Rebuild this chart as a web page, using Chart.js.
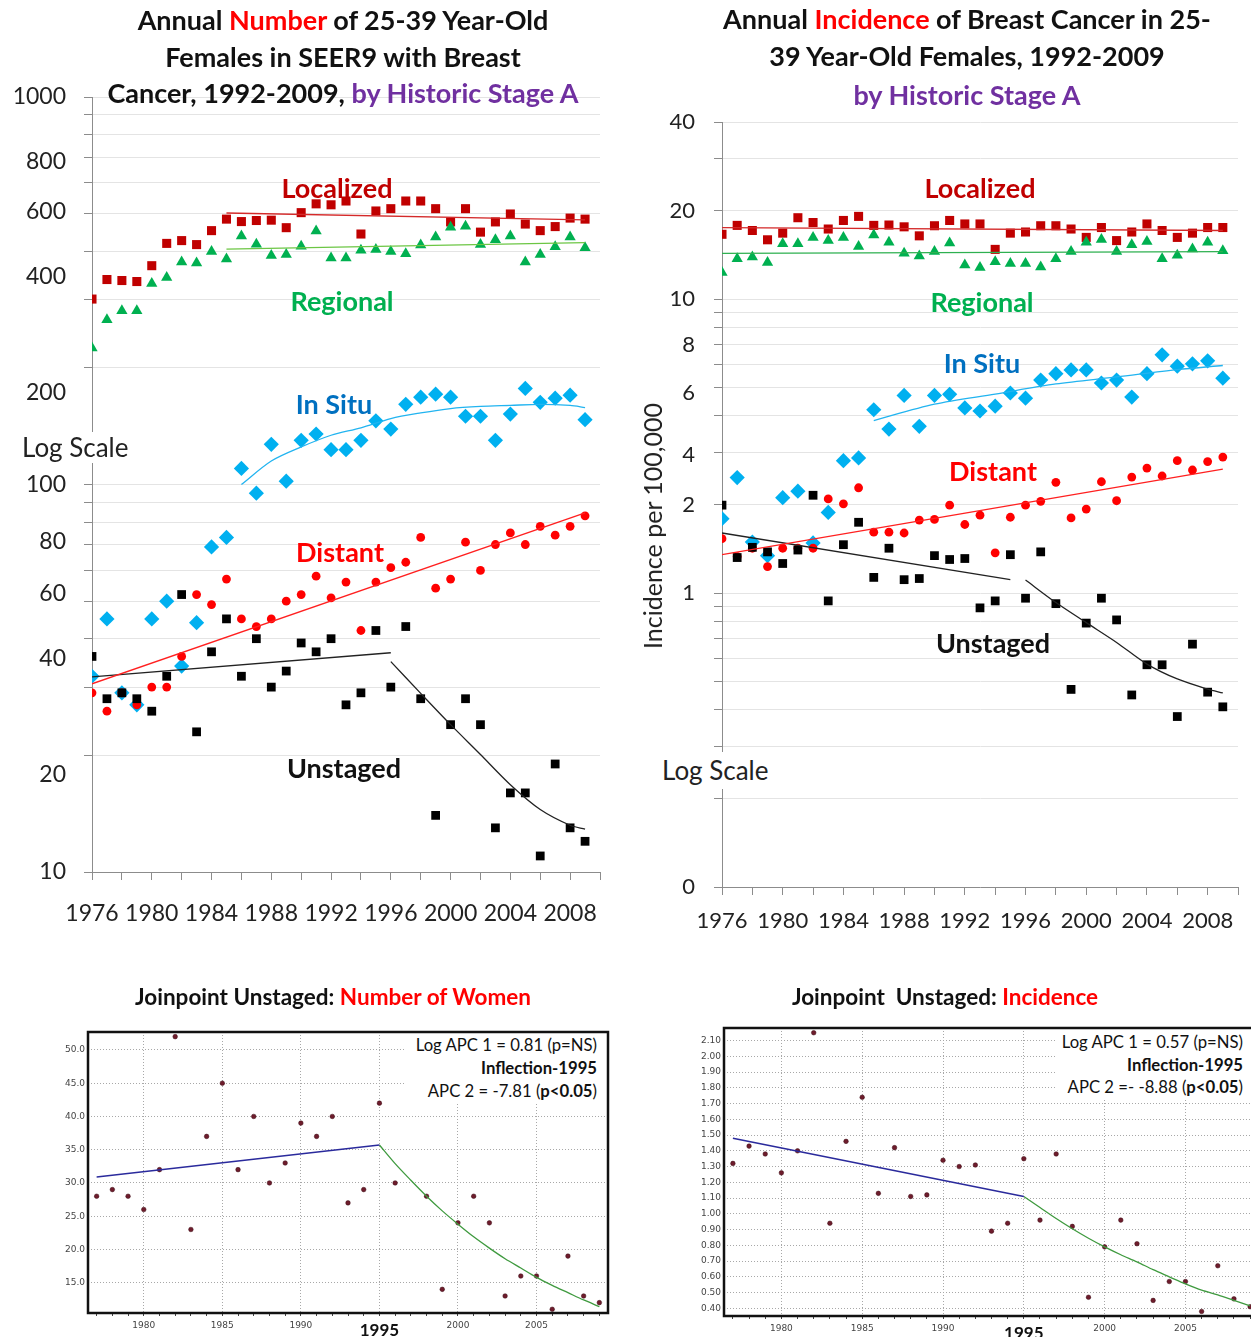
<!DOCTYPE html>
<html>
<head>
<meta charset="utf-8">
<title>Breast cancer in 25-39 year-old females, SEER9, by Historic Stage A</title>
<script src="https://cdn.jsdelivr.net/npm/chart.js@4.4.1/dist/chart.umd.min.js"></script>
<style>
  html, body { margin: 0; padding: 0; background: #fff; }
  body { position: relative; width: 1251px; height: 1337px; overflow: hidden;
         font-family: Lato, 'Open Sans', sans-serif; color: #111; }
  canvas { position: absolute; }
  .ttl { position: absolute; white-space: nowrap; font-weight: 700; font-size: 27px;
         line-height: 36px; transform: translateX(-50%); }
  .sub { font-size: 22.5px; line-height: 30px; }
  .red { color: #ff0000; }
  .purple { color: #7030a0; }
  .lbl { position: absolute; white-space: nowrap; font-weight: 700; font-size: 27px;
         transform: translate(-50%, -50%); }
  .logs { position: absolute; background: #fff; font-size: 26px; color: #222; white-space: nowrap; }
  .note { position: absolute; background: #fff; text-align: right; font-size: 16.7px; white-space: nowrap; }
</style>
</head>
<body>

<canvas id="cNum" width="620" height="950" style="left:0;top:0"></canvas>
<canvas id="cInc" width="621" height="950" style="left:630px;top:0"></canvas>
<canvas id="cJpNum" width="625" height="377" style="left:0;top:960px"></canvas>
<canvas id="cJpInc" width="640" height="377" style="left:630px;top:960px"></canvas>

<!-- titles -->
<div class="ttl" style="left:343px;top:2px">Annual <span class="red">Number</span> of 25-39 Year-Old</div>
<div class="ttl" style="left:343px;top:39px">Females in SEER9 with Breast</div>
<div class="ttl" style="left:343px;top:75px">Cancer, 1992-2009, <span class="purple">by Historic Stage A</span></div>

<div class="ttl" style="left:967px;top:1px">Annual <span class="red">Incidence</span> of Breast Cancer in 25-</div>
<div class="ttl" style="left:967px;top:38px">39 Year-Old Females, 1992-2009</div>
<div class="ttl purple" style="left:967px;top:77px">by Historic Stage A</div>

<div class="ttl sub" style="left:333px;top:982px">Joinpoint Unstaged: <span class="red">Number of Women</span></div>
<div class="ttl sub" style="left:945px;top:982px">Joinpoint&nbsp; Unstaged: <span class="red">Incidence</span></div>

<!-- series names, upper left -->
<div class="lbl" style="left:337px;top:187px;color:#c00000">Localized</div>
<div class="lbl" style="left:342px;top:300px;color:#00b050">Regional</div>
<div class="lbl" style="left:334px;top:403px;color:#0070c0">In Situ</div>
<div class="lbl" style="left:340px;top:551px;color:#ff0000">Distant</div>
<div class="lbl" style="left:344px;top:767px;color:#111">Unstaged</div>

<!-- series names, upper right -->
<div class="lbl" style="left:980px;top:187px;color:#c00000">Localized</div>
<div class="lbl" style="left:982px;top:301px;color:#00b050">Regional</div>
<div class="lbl" style="left:982px;top:362px;color:#0070c0">In Situ</div>
<div class="lbl" style="left:993px;top:470px;color:#ff0000">Distant</div>
<div class="lbl" style="left:993px;top:642px;color:#111">Unstaged</div>

<div class="logs" style="left:16px;top:432px;width:118px;height:31px;line-height:31px;padding-left:6px">Log Scale</div>
<div class="logs" style="left:656px;top:752px;width:118px;height:37px;line-height:37px;padding-left:6px">Log Scale</div>

<div style="position:absolute;left:652px;top:526px;transform:translate(-50%,-50%) rotate(-90deg);font-size:25px;white-space:nowrap;color:#222">Incidence per 100,000</div>

<!-- joinpoint notes -->
<div class="note" style="left:406px;top:1034px;width:191px;padding-right:8px;line-height:23px">
  Log APC 1 = 0.81 (p=NS)<br><b>Inflection-1995</b><br>APC 2 = -7.81 (<b>p&lt;0.05</b>)
</div>
<div class="note" style="left:1057px;top:1031px;width:186px;padding-right:14px;line-height:22.5px">
  Log APC 1 = 0.57 (p=NS)<br><b>Inflection-1995</b><br>APC 2 =- -8.88 (<b>p&lt;0.05</b>)
</div>

<script>
// ── DATA ──────────────────────────────────────────────────────
const years = [1976,1977,1978,1979,1980,1981,1982,1983,1984,1985,1986,1987,1988,1989,1990,1991,
               1992,1993,1994,1995,1996,1997,1998,1999,2000,2001,2002,2003,2004,2005,2006,2007,2008,2009];

// annual number of women (upper left)
const localizedN = [301,338,336,334,367,419,426,416,452,484,477,480,481,460,503,530,527,539,443,508,
                    515,539,539,515,476,515,448,476,499,470,452,463,487,484];
const regionalN  = [225,266,281,281,330,342,375,373,399,382,438,417,390,392,412,451,384,384,402,404,
                    399,394,415,435,461,464,416,428,438,375,392,411,435,408];
const inSituN    = [32,45,29,27,45,50,34,44,69,73,110,95,127,102,130,135,123,123,130,146,
                    139,161,168,171,168,150,150,130,152,177,163,167,170,147];
const distantN   = [29,26,29,27,30,30,36,52,49,57,45,43,45,50,52,58,51,56,42,56,
                    61,63,73,54,57,71,60,70,75,70,78,74,78,83];
const unstagedN  = [36,28,29,28,26,32,52,23,37,45,32,40,30,33,39,37,40,27,29,42,
                    30,43,28,14,24,28,24,13,16,16,11,19,13,12];

// fitted lines (upper left)
const locFitYrsN = [1985, 2009],               locFitN = [502, 482];
const regFitYrsN = [1985, 2009],               regFitN = [405, 421];
const situFitYrsN = [1986,1988,1990,1992,1994,1996,1998,2000,2002,2004,2006,2008,2009];
const situFitN    = [100,115,125,134,140,148,153,157,159,160,161,160,158];
const distFitYrsN = [1976, 2009],              distFitN = [30.6, 84.5];
const unst1FitYrsN = [1976, 1996],             unst1FitN = [31.9, 36.8];
const unst2FitYrsN = [1996,1998,2000,2002,2004,2006,2008,2009];
const unst2FitN    = [34.9,28.9,24.0,20.1,16.8,14.5,13.2,12.9];

// annual incidence per 100,000 (upper right)
const localizedI = [16.6,17.8,17.1,15.9,16.75,18.9,18.2,17.3,18.5,19.1,17.8,17.85,17.6,16.4,17.75,18.5,
                    18.0,18.0,14.75,16.75,16.9,17.75,17.75,17.3,16.2,17.5,15.8,16.9,18.0,17.1,16.2,16.75,17.5,17.5];
const regionalI  = [12.3,13.7,13.9,13.3,15.4,15.4,16.2,15.8,16.2,15.1,16.5,15.6,14.3,14.0,14.5,15.5,
                    13.05,12.8,13.4,13.2,13.2,12.85,13.7,14.5,15.6,15.95,14.5,15.3,15.7,13.7,14.1,14.8,15.6,14.6];
const inSituI    = [1.79,2.47,1.49,1.34,2.11,2.22,1.48,1.88,2.82,2.88,4.20,3.61,4.70,3.69,4.70,4.74,
                    4.26,4.16,4.32,4.79,4.60,5.30,5.57,5.74,5.74,5.18,5.30,4.64,5.57,6.46,5.91,6.02,6.16,5.38];
const distantI   = [1.53,1.33,1.42,1.23,1.42,1.42,1.42,2.09,2.01,2.28,1.61,1.61,1.60,1.77,1.78,1.99,
                    1.71,1.84,1.37,1.81,1.99,2.05,2.38,1.80,1.93,2.39,2.06,2.48,2.66,2.50,2.82,2.62,2.80,2.90];
const unstagedI  = [1.99,1.32,1.43,1.38,1.26,1.40,2.15,0.94,1.46,1.74,1.13,1.42,1.11,1.12,1.34,1.30,
                    1.31,0.89,0.94,1.35,0.96,1.38,0.92,0.47,0.79,0.96,0.81,0.45,0.57,0.57,0.38,0.67,0.46,0.41];

// fitted lines (upper right)
const locFitYrsI = [1976, 2009],               locFitI = [17.5, 17.1];
const regFitYrsI = [1976, 2009],               regFitI = [14.3, 14.5];
const situFitYrsI = [1986,1990,1994,1998,2002,2006,2009];
const situFitI    = [3.86,4.39,4.75,5.14,5.43,5.75,5.94];
const distFitYrsI = [1976, 2009],              distFitI = [1.35, 2.64];
const unst1FitYrsI = [1976, 1995],             unst1FitI = [1.60, 1.11];
const unst2FitYrsI = [1996,1998,2000,2002,2004,2006,2008,2009];
const unst2FitI    = [1.107,0.928,0.793,0.679,0.573,0.510,0.471,0.457];

// log-axis grid lines and the labels as they were placed on the figure
const numGrid      = [10,20,30,40,50,60,70,80,90,100,200,300,400,500,600,700,800,900,1000];
const numLabelVals = [10,17.8,35.6,52.4,71.2,100,173,344,507,682,1000];
const numLabelTxt  = ['10','20','40','60','80','100','200','400','600','800','1000'];
const incGrid      = [0.1,0.2,0.3,0.4,0.5,0.6,0.7,0.8,0.9,1,2,3,4,5,6,7,8,9,10,20,30,40];
const incLabelVals = [0.1,1,2,2.96,4.79,7,10,20,40];
const incLabelTxt  = ['0','1','2','4','6','8','10','20','40'];

// joinpoint panels: unstaged only, 1977-2009
const jpYears = [1977,1978,1979,1980,1981,1982,1983,1984,1985,1986,1987,1988,1989,1990,1991,1992,1993,
                 1994,1995,1996,1997,1998,1999,2000,2001,2002,2003,2004,2005,2006,2007,2008,2009];
const jpCount = [28,29,28,26,32,52,23,37,45,32,40,30,33,39,37,40,27,29,42,30,43,28,14,24,28,24,13,16,16,11,19,13,12];
const jpRate  = [1.32,1.43,1.38,1.26,1.40,2.15,0.94,1.46,1.74,1.13,1.42,1.11,1.12,1.34,1.30,1.31,0.89,
                 0.94,1.35,0.96,1.38,0.92,0.47,0.79,0.96,0.81,0.45,0.57,0.57,0.38,0.67,0.46,0.41];
const jpSeg1Yrs = [1977, 1995];
const jpSeg1Count = [30.9, 35.7];
const jpSeg1Rate  = [1.48, 1.11];
const jpSeg2Yrs = [1995,1996,1997,1998,1999,2000,2001,2002,2003,2004,2005,2006,2007,2008,2009];
const jpSeg2Count = [35.7,32.9,30.4,28.0,25.8,23.8,21.9,20.2,18.6,17.2,15.8,14.6,13.5,12.4,11.4];
const jpSeg2Rate  = [1.11,1.04,0.97,0.905,0.845,0.79,0.74,0.695,0.645,0.60,0.555,0.515,0.485,0.45,0.415];

// ── HELPERS ───────────────────────────────────────────────────
const pts = (xs, ys) => xs.map((x, i) => ({ x, y: ys[i] }));
const CLEAR = 'rgba(0,0,0,0)';

function markers(xs, ys, color, style, radius, order) {
  return { data: pts(xs, ys), showLine: false, pointStyle: style, pointRadius: radius,
           pointBackgroundColor: color, pointBorderColor: color, pointBorderWidth: 0, order };
}
function fitLine(xs, ys, color, width, tension) {
  return { data: pts(xs, ys), showLine: true, pointRadius: 0, borderColor: color,
           borderWidth: width || 1.3, tension: tension || 0, fill: false, order: -1 };
}
function axisTicks(gridVals, labelVals, labelTxt) {
  const byValue = new Map();
  gridVals.forEach(v => byValue.set(v, { value: v, grid: true, lbl: '' }));
  labelVals.forEach((v, i) => {
    const t = byValue.get(v) || { value: v, grid: false, lbl: '' };
    t.lbl = labelTxt[i];
    byValue.set(v, t);
  });
  return [...byValue.values()].sort((a, b) => a.value - b.value);
}

function upperOptions(o) {
  const ticks = axisTicks(o.grid, o.labelVals, o.labelTxt);
  return {
    responsive: false, animation: false,
    layout: { padding: { top: o.top, right: o.right, left: 0, bottom: 0 } },
    plugins: { legend: { display: false }, tooltip: { enabled: false } },
    scales: {
      x: {
        type: 'linear', min: 1976, max: 2010,
        afterFit: s => { s.height = o.xh; },
        grid: { drawOnChartArea: false, tickLength: 8, tickColor: '#8c8c8c' },
        border: { color: '#8c8c8c' },
        ticks: { stepSize: 2, autoSkip: false, maxRotation: 0, padding: o.xpad, color: '#222',
                 font: { family: 'Lato', size: o.fs },
                 callback: v => ((v - 1976) % 4 === 0 && v < 2010) ? String(v) : '' }
      },
      y: {
        type: 'logarithmic', min: o.min, max: o.max,
        afterFit: s => { s.width = o.yw; },
        afterBuildTicks: s => { s.ticks = ticks.map(t => ({ ...t })); },
        grid: { color: c => (c.tick && c.tick.grid) ? '#e4e4e4' : CLEAR,
                tickColor: c => (c.tick && c.tick.grid) ? '#8c8c8c' : CLEAR, tickLength: 8 },
        border: { color: '#8c8c8c' },
        ticks: { autoSkip: false, padding: o.ypad, color: '#222', font: { family: 'Lato', size: o.fs },
                 callback: (v, i, t) => t[i].lbl || '' }
      }
    }
  };
}

const framePlugin = {
  id: 'frame',
  afterDraw(chart) {
    const { ctx, chartArea: a } = chart;
    ctx.save();
    ctx.strokeStyle = '#111';
    ctx.lineWidth = 2.5;
    ctx.strokeRect(a.left, a.top, a.right - a.left, a.bottom - a.top);
    ctx.restore();
  }
};

function jpOptions(o) {
  const small = { family: 'DejaVu Sans', size: 9 };
  return {
    responsive: false, animation: false,
    layout: { padding: { top: o.top, right: o.right, left: 0, bottom: 0 } },
    plugins: { legend: { display: false }, tooltip: { enabled: false } },
    scales: {
      x: {
        type: 'linear', min: 1976.45, max: 2009.55,
        afterFit: s => { s.height = o.xh; },
        grid: { color: c => (c.tick && c.tick.value % 5 === 0) ? '#a8a8a8' : CLEAR,
                tickColor: '#444', tickLength: 3, tickBorderDash: [] },
        border: { display: false, dash: [1, 2] },
        ticks: { stepSize: 1, includeBounds: false, autoSkip: false, maxRotation: 0, padding: o.xpad,
                 font: c => (c.tick && c.tick.value === 1995) ? { family: 'Lato', size: 17, weight: 'bold' } : small,
                 color: c => (c.tick && c.tick.value === 1995) ? '#111' : '#444',
                 callback: v => v % 5 === 0 ? String(v) : '' }
      },
      y: {
        min: o.min, max: o.max,
        afterFit: s => { s.width = o.yw; },
        grid: { color: '#a8a8a8', drawTicks: false },
        border: { display: false, dash: [1, 2] },
        ticks: { stepSize: o.step, includeBounds: false, autoSkip: false, padding: 3, color: '#444',
                 font: small, callback: v => v.toFixed(o.dec) }
      }
    }
  };
}

function jpDatasets(vals, seg1, seg2) {
  return [
    { data: pts(jpYears, vals), showLine: false, pointRadius: 2.3, pointBackgroundColor: '#6e1c2c',
      pointBorderColor: '#3a0a12', pointBorderWidth: 0.5, order: 0 },
    fitLine(jpSeg1Yrs, seg1, '#2a2a9c', 1.6),
    fitLine(jpSeg2Yrs, seg2, '#3f9a3f', 1.3, 0.3)
  ];
}

// ── CHARTS ────────────────────────────────────────────────────
new Chart(document.getElementById('cNum'), {
  type: 'scatter',
  data: { datasets: [
    markers(years, localizedN, '#c00000', 'rect', 6.4, 5),
    markers(years, regionalN, '#00b050', 'triangle', 6.5, 4),
    markers(years, inSituN, '#00b0f0', 'rectRot', 7.6, 3),
    markers(years, distantN, '#ff0000', 'circle', 4.4, 2),
    markers(years, unstagedN, '#000000', 'rect', 6.2, 1),
    fitLine(locFitYrsN, locFitN, '#d42a2a'),
    fitLine(regFitYrsN, regFitN, '#6cc644'),
    fitLine(situFitYrsN, situFitN, '#22b4f0', 1.3, 0.3),
    fitLine(distFitYrsN, distFitN, '#ff2020'),
    fitLine(unst1FitYrsN, unst1FitN, '#222'),
    fitLine(unst2FitYrsN, unst2FitN, '#222', 1.3, 0.3)
  ]},
  options: upperOptions({ top: 97, right: 18, xh: 78, yw: 92, xpad: 20, ypad: 18, fs: 23,
                          min: 10, max: 1000, grid: numGrid, labelVals: numLabelVals, labelTxt: numLabelTxt })
});

new Chart(document.getElementById('cInc'), {
  type: 'scatter',
  data: { datasets: [
    markers(years, localizedI, '#c00000', 'rect', 6.4, 5),
    markers(years, regionalI, '#00b050', 'triangle', 6.5, 4),
    markers(years, inSituI, '#00b0f0', 'rectRot', 7.6, 3),
    markers(years, distantI, '#ff0000', 'circle', 4.4, 2),
    markers(years, unstagedI, '#000000', 'rect', 6.2, 1),
    fitLine(locFitYrsI, locFitI, '#d42a2a'),
    fitLine(regFitYrsI, regFitI, '#2eb050'),
    fitLine(situFitYrsI, situFitI, '#22b4f0', 1.3, 0.3),
    fitLine(distFitYrsI, distFitI, '#ff2020'),
    fitLine(unst1FitYrsI, unst1FitI, '#222'),
    fitLine(unst2FitYrsI, unst2FitI, '#222', 1.3, 0.3)
  ]},
  options: upperOptions({ top: 122, right: 2, xh: 63, yw: 92, xpad: 13, ypad: 19, fs: 22,
                          min: 0.1, max: 40, grid: incGrid, labelVals: incLabelVals, labelTxt: incLabelTxt })
});

new Chart(document.getElementById('cJpNum'), {
  type: 'scatter',
  data: { datasets: jpDatasets(jpCount, jpSeg1Count, jpSeg2Count) },
  options: jpOptions({ top: 72, right: 17, xh: 24, yw: 88, xpad: 4, min: 10.44, max: 52.7, step: 5, dec: 1 }),
  plugins: [framePlugin]
});

new Chart(document.getElementById('cJpInc'), {
  type: 'scatter',
  data: { datasets: jpDatasets(jpRate, jpSeg1Rate, jpSeg2Rate) },
  options: jpOptions({ top: 68, right: 11, xh: 21, yw: 94, xpad: 4, min: 0.351, max: 2.18, step: 0.1, dec: 2 }),
  plugins: [framePlugin]
});
</script>
</body>
</html>
